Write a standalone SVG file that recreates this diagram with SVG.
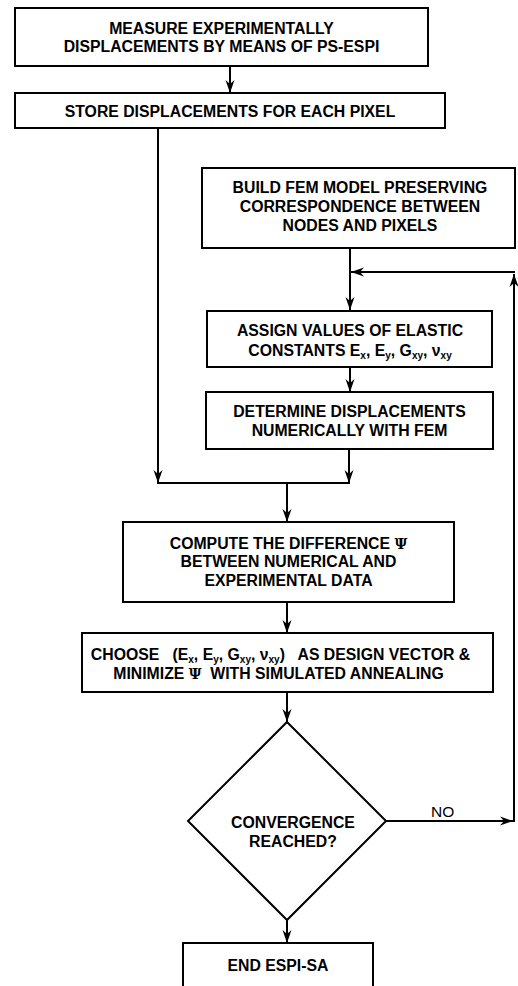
<svg xmlns="http://www.w3.org/2000/svg" width="518" height="986" viewBox="0 0 518 986">
<defs>
<marker id="arr" markerUnits="userSpaceOnUse" viewBox="-14 -6 15 12" markerWidth="15" markerHeight="12" refX="0" refY="0" orient="auto">
<path d="M0,0 L-13,-4.5 L-9,0 L-13,4.5 Z" fill="#000"/>
</marker>
</defs>
<style>
.box{fill:#fff;stroke:#000;stroke-width:2}
.t{font-family:"Liberation Sans",Arial,sans-serif;font-weight:bold;font-size:15.8px;text-anchor:middle;fill:#000}
.n{font-family:"Liberation Sans",Arial,sans-serif;font-size:15.5px;fill:#000}
.s{font-size:10px}
.psi{font-family:"DejaVu Serif","Liberation Serif",serif;font-weight:bold;font-size:14px}
.c{fill:none;stroke:#000;stroke-width:2}
.a{marker-end:url(#arr)}
</style>
<g id="connectors">
<line class="c a" x1="230" y1="66" x2="230" y2="93"/>
<line class="c a" x1="158" y1="128" x2="158" y2="483"/>
<line class="c a" x1="350" y1="248" x2="350" y2="310"/>
<line class="c a" x1="350" y1="367" x2="350" y2="392"/>
<line class="c a" x1="349" y1="449" x2="349" y2="483"/>
<line class="c" x1="157" y1="483" x2="350" y2="483"/>
<line class="c a" x1="287" y1="483" x2="287" y2="522"/>
<line class="c a" x1="287" y1="602" x2="287" y2="633"/>
<line class="c a" x1="287" y1="692" x2="287" y2="722"/>
<line class="c a" x1="287" y1="920" x2="287" y2="943"/>
<line class="c a" x1="385" y1="821" x2="513" y2="821"/>
<line class="c a" x1="514" y1="822" x2="514" y2="274"/>
<line class="c a" x1="515" y1="272" x2="351" y2="272"/>
<text class="n" x="431" y="817">NO</text>
</g>
<g id="n1">
<rect class="box" x="15" y="8" width="413" height="58"/>
<text class="t" x="221.5" y="34">MEASURE EXPERIMENTALLY</text>
<text class="t" x="221.5" y="52">DISPLACEMENTS BY MEANS OF PS-ESPI</text>
</g>
<g id="n2">
<rect class="box" x="15" y="93" width="430" height="35"/>
<text class="t" x="230" y="117">STORE DISPLACEMENTS FOR EACH PIXEL</text>
</g>
<g id="n3">
<rect class="box" x="202" y="168" width="313" height="80"/>
<text class="t" x="360" y="193">BUILD FEM MODEL PRESERVING</text>
<text class="t" x="360" y="212">CORRESPONDENCE BETWEEN</text>
<text class="t" x="360" y="231">NODES AND PIXELS</text>
</g>
<g id="n4">
<rect class="box" x="207" y="311" width="285" height="56"/>
<text class="t" x="350" y="336">ASSIGN VALUES OF ELASTIC</text>
<text class="t" x="350" y="356">CONSTANTS E<tspan class="s" dy="3">x</tspan><tspan dy="-3">, E</tspan><tspan class="s" dy="3">y</tspan><tspan dy="-3">, G</tspan><tspan class="s" dy="3">xy</tspan><tspan dy="-3">, ν</tspan><tspan class="s" dy="3">xy</tspan></text>
</g>
<g id="n5">
<rect class="box" x="206" y="392" width="287" height="57"/>
<text class="t" x="349.5" y="417">DETERMINE DISPLACEMENTS</text>
<text class="t" x="349.5" y="436">NUMERICALLY WITH FEM</text>
</g>
<g id="n6">
<rect class="box" x="123" y="522" width="331" height="80"/>
<text class="t" x="288.5" y="549">COMPUTE THE DIFFERENCE <tspan class="psi">Ψ</tspan></text>
<text class="t" x="288.5" y="567">BETWEEN NUMERICAL AND</text>
<text class="t" x="288.5" y="586">EXPERIMENTAL DATA</text>
</g>
<g id="n7">
<rect class="box" x="82" y="633" width="411" height="59"/>
<text class="t" x="280.5" y="660" xml:space="preserve">CHOOSE   (E<tspan class="s" dy="3">x</tspan><tspan dy="-3">, E</tspan><tspan class="s" dy="3">y</tspan><tspan dy="-3">, G</tspan><tspan class="s" dy="3">xy</tspan><tspan dy="-3">, ν</tspan><tspan class="s" dy="3">xy</tspan><tspan dy="-3">)   AS DESIGN VECTOR &amp;</tspan></text>
<text class="t" x="278.5" y="679" xml:space="preserve">MINIMIZE <tspan class="psi">Ψ</tspan>  WITH SIMULATED ANNEALING</text>
</g>
<g id="n8">
<polygon class="box" points="287,722 386,821 287,920 188,821"/>
<text class="t" x="293" y="828">CONVERGENCE</text>
<text class="t" x="293" y="847">REACHED?</text>
</g>
<g id="n9">
<rect class="box" x="183" y="943" width="190" height="60"/>
<text class="t" x="278" y="971">END ESPI-SA</text>
</g>
</svg>
